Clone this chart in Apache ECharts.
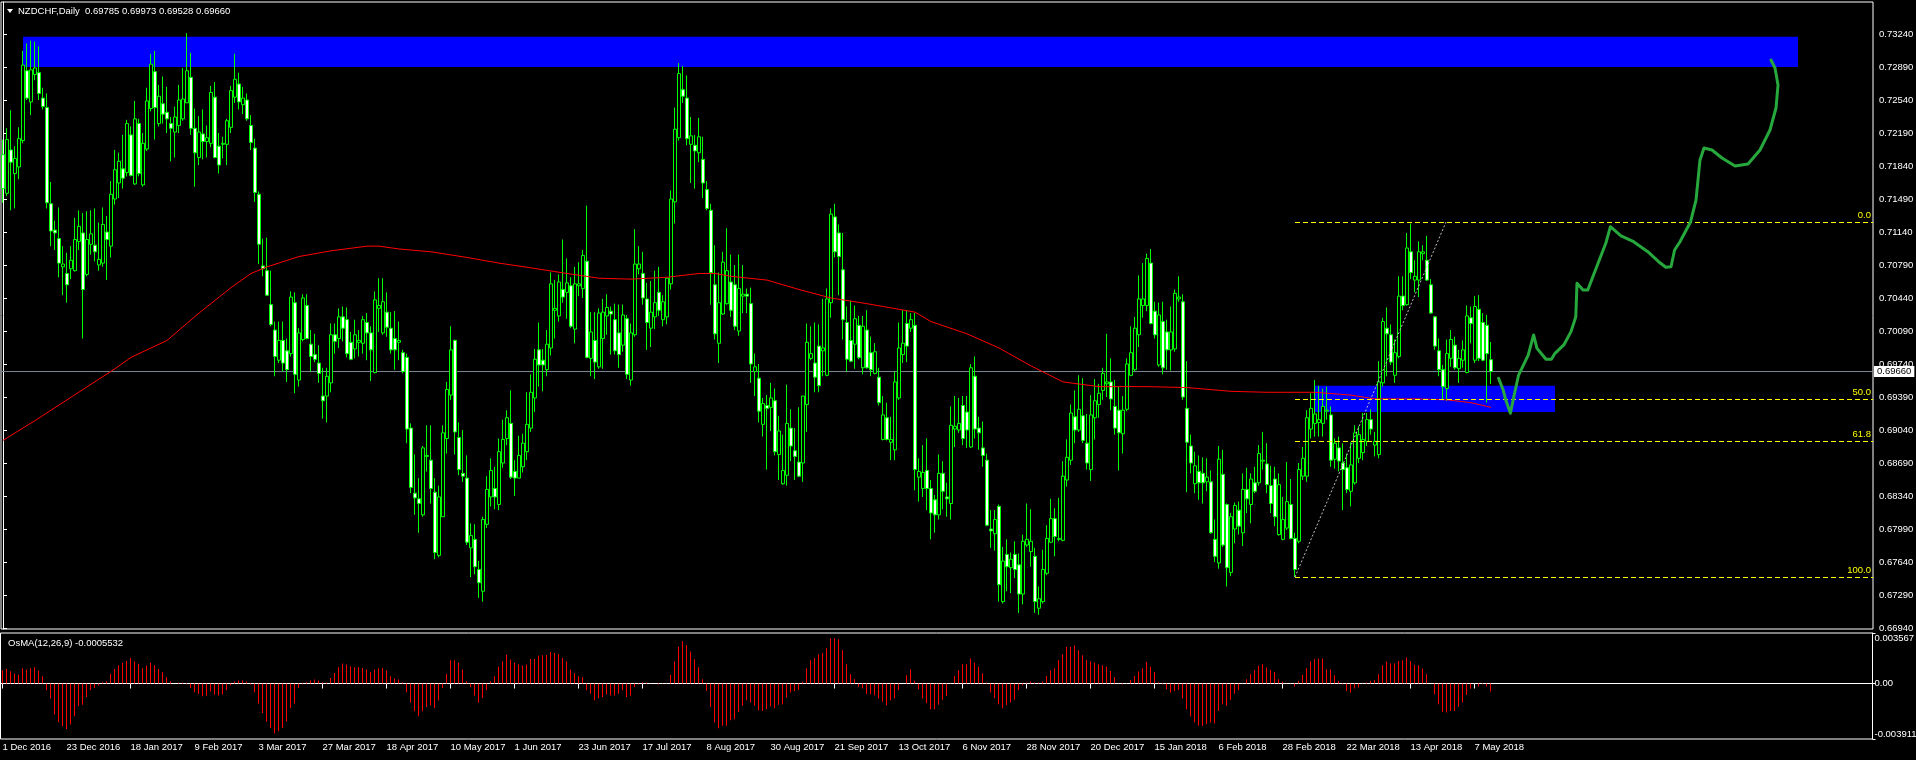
<!DOCTYPE html>
<html><head><meta charset="utf-8">
<script src="https://cdn.jsdelivr.net/npm/echarts@6.0.0/dist/echarts.min.js"></script>
<style>html,body{margin:0;padding:0;background:#000;}#chart{width:1916px;height:760px;}</style>
</head><body><div id="chart"></div>
<script>
const symbolName = 'NZDCHF';
const timeframe = 'Daily';
const dateLabels = ['1 Dec 2016','23 Dec 2016','18 Jan 2017','9 Feb 2017','3 Mar 2017','27 Mar 2017','18 Apr 2017','10 May 2017','1 Jun 2017','23 Jun 2017','17 Jul 2017','8 Aug 2017','30 Aug 2017','21 Sep 2017','13 Oct 2017','6 Nov 2017','28 Nov 2017','20 Dec 2017','15 Jan 2018','6 Feb 2018','28 Feb 2018','22 Mar 2018','13 Apr 2018','7 May 2018'];
const barsPerLabel = 16;

const open = [0.7196,0.7155,0.7201,0.7176,0.7183,0.7211,0.7285,0.7252,0.7281,0.7283,
0.7256,0.7246,0.7144,0.7116,0.7107,0.7077,0.7070,0.7075,0.7073,0.7104,
0.7113,0.7069,0.7101,0.7100,0.7079,0.7081,0.7114,0.7099,0.7149,0.7166,
0.7181,0.7177,0.7217,0.7165,0.7229,0.7164,0.7202,0.7245,0.7284,0.7229,
0.7250,0.7241,0.7229,0.7220,0.7227,0.7234,0.7251,0.7278,0.7224,0.7193,
0.7218,0.7210,0.7208,0.7257,0.7205,0.7207,0.7207,0.7225,0.7257,0.7271,
0.7249,0.7254,0.7227,0.7203,0.7154,0.7078,0.7073,0.7037,0.7010,0.6978,
0.6999,0.6988,0.6985,0.7039,0.6957,0.7000,0.7036,0.6995,0.6984,0.6975,
0.6940,0.6940,0.6954,0.7005,0.7001,0.7024,0.7021,0.6997,0.6990,0.6997,
0.6996,0.7018,0.7007,0.6965,0.7033,0.7007,0.7029,0.7012,0.7001,0.6997,
0.6986,0.6981,0.6906,0.6837,0.6831,0.6814,0.6876,0.6872,0.6838,0.6771,
0.6812,0.6895,0.6941,0.6999,0.6896,0.6858,0.6853,0.6779,0.6788,0.6756,
0.6733,0.6804,0.6833,0.6842,0.6825,0.6869,0.6895,0.6911,0.6860,0.6853,
0.6865,0.6881,0.6906,0.6938,0.6989,0.6978,0.6968,0.6991,0.7031,0.7025,
0.7053,0.7050,0.7057,0.7011,0.7057,0.7054,0.7083,0.6980,0.6999,0.6971,
0.7001,0.7025,0.7030,0.7021,0.7007,0.6994,0.7022,0.6957,0.7005,0.7075,
0.7070,0.7043,0.7012,0.7024,0.7050,0.7021,0.7024,0.7059,0.7146,0.7214,
0.7265,0.7256,0.7207,0.7206,0.7198,0.7191,0.7159,0.7137,0.7058,0.6996,
0.7027,0.7038,0.7061,0.7058,0.7009,0.7046,0.7048,0.7038,0.6966,0.6959,
0.6910,0.6930,0.6928,0.6935,0.6878,0.6847,0.6856,0.6906,0.6882,0.6870,
0.6869,0.6931,0.6980,0.6975,0.6993,0.6988,0.6962,0.7039,0.7130,0.7113,
0.7074,0.7018,0.6999,0.6995,0.7015,0.6970,0.7010,0.6986,0.6964,0.6960,
0.6894,0.6917,0.6891,0.6883,0.6938,0.6984,0.7017,0.7012,0.7015,0.6854,
0.6842,0.6861,0.6842,0.6830,0.6814,0.6858,0.6833,0.6826,0.6905,0.6904,
0.6930,0.6923,0.6886,0.6961,0.6906,0.6885,0.6872,0.6799,0.6794,0.6823,
0.6722,0.6772,0.6758,0.6772,0.6761,0.6730,0.6782,0.6775,0.6770,0.6715,
0.6722,0.6752,0.6785,0.6810,0.6788,0.6787,0.6851,0.6872,0.6918,0.6904,
0.6919,0.6890,0.6862,0.6917,0.6931,0.6946,0.6953,0.6955,0.6929,0.6925,
0.6900,0.6926,0.6962,0.6968,0.7005,0.7036,0.7036,0.7081,0.7030,0.6973,
0.7019,0.7008,0.6989,0.6990,0.7043,0.7040,0.6927,0.6887,0.6847,0.6860,
0.6858,0.6849,0.6849,0.6788,0.6763,0.6857,0.6825,0.6753,0.6799,0.6819,
0.6795,0.6841,0.6825,0.6848,0.6848,0.6871,0.6868,0.6845,0.6852,0.6793,
0.6788,0.6800,0.6825,0.6789,0.6786,0.6855,0.6855,0.6905,0.6911,0.6912,
0.6911,0.6924,0.6920,0.6873,0.6885,0.6869,0.6864,0.6839,0.6848,0.6874,
0.6880,0.6892,0.6915,0.6888,0.6878,0.6954,0.7012,0.7005,0.6962,0.6982,
0.7046,0.7037,0.7093,0.7063,0.7063,0.7091,0.7084,0.7058,0.7024,0.6988,
0.6968,0.6948,0.6980,0.6994,0.6969,0.6978,0.6965,0.7023,0.6978,0.7032,
0.7018,0.7015,0.69785];

const high = [0.7212,0.7224,0.7243,0.7205,0.7225,0.7306,0.7314,0.7317,0.7316,0.7311,
0.7267,0.7261,0.7167,0.7126,0.7140,0.7099,0.7092,0.7099,0.7129,0.7137,
0.7134,0.7136,0.7137,0.7139,0.7124,0.7140,0.7131,0.7168,0.7201,0.7198,
0.7217,0.7233,0.7226,0.7253,0.7234,0.7219,0.7267,0.7303,0.7306,0.7270,
0.7279,0.7268,0.7236,0.7247,0.7270,0.7288,0.7325,0.7304,0.7245,0.7237,
0.7244,0.7227,0.7269,0.7273,0.7219,0.7215,0.7234,0.7269,0.7303,0.7283,
0.7268,0.7261,0.7238,0.7213,0.7157,0.7107,0.7108,0.7073,0.7019,0.7019,
0.7019,0.7001,0.7051,0.7050,0.7012,0.7048,0.7048,0.7010,0.7006,0.6994,
0.6970,0.6970,0.7017,0.7017,0.7033,0.7035,0.7034,0.7008,0.7021,0.7010,
0.7025,0.7028,0.7014,0.7051,0.7065,0.7065,0.7050,0.7029,0.7030,0.7019,
0.6989,0.6985,0.6911,0.6878,0.6853,0.6887,0.6909,0.6909,0.6853,0.6845,
0.6909,0.6955,0.7014,0.7000,0.6912,0.6904,0.6877,0.6805,0.6804,0.6765,
0.6812,0.6855,0.6874,0.6865,0.6895,0.6915,0.6925,0.6946,0.6872,0.6898,
0.6900,0.6944,0.6963,0.6990,0.7018,0.6990,0.7010,0.7071,0.7063,0.7069,
0.7106,0.7086,0.7066,0.7077,0.7082,0.7095,0.7142,0.7029,0.7029,0.7033,
0.7043,0.7048,0.7035,0.7038,0.7037,0.7037,0.7026,0.7017,0.7117,0.7099,
0.7093,0.7060,0.7062,0.7073,0.7077,0.7047,0.7066,0.7158,0.7246,0.7293,
0.7290,0.7280,0.7236,0.7217,0.7235,0.7215,0.7168,0.7144,0.7100,0.7071,
0.7093,0.7118,0.7090,0.7079,0.7090,0.7079,0.7054,0.7055,0.6985,0.6974,
0.6938,0.6941,0.6954,0.6948,0.6919,0.6899,0.6952,0.6926,0.6906,0.6928,
0.6940,0.7017,0.7014,0.7018,0.7016,0.7043,0.7054,0.7139,0.7144,0.7122,
0.7113,0.7035,0.7041,0.7036,0.7025,0.7025,0.7031,0.7003,0.6996,0.6970,
0.6940,0.6933,0.6918,0.6966,0.7018,0.7031,0.7031,0.7028,0.7028,0.6874,
0.6888,0.6895,0.6851,0.6835,0.6878,0.6871,0.6848,0.6929,0.6940,0.6938,
0.6940,0.6940,0.6974,0.6982,0.6918,0.6913,0.6879,0.6819,0.6819,0.6825,
0.6780,0.6788,0.6774,0.6786,0.6773,0.6793,0.6826,0.6820,0.6779,0.6738,
0.6777,0.6803,0.6831,0.6821,0.6832,0.6871,0.6894,0.6931,0.6946,0.6962,
0.6959,0.6921,0.6941,0.6958,0.6953,0.6970,0.7006,0.6980,0.6957,0.6950,
0.6940,0.6980,0.7014,0.7024,0.7068,0.7081,0.7091,0.7096,0.7040,0.7039,
0.7040,0.7021,0.7035,0.7053,0.7067,0.7048,0.6977,0.6899,0.6881,0.6877,
0.6875,0.6874,0.6861,0.6809,0.6887,0.6883,0.6826,0.6816,0.6827,0.6828,
0.6858,0.6864,0.6858,0.6865,0.6888,0.6902,0.6890,0.6866,0.6865,0.6858,
0.6833,0.6870,0.6852,0.6795,0.6869,0.6886,0.6925,0.6943,0.6957,0.6951,
0.6948,0.6950,0.6929,0.6895,0.6897,0.6890,0.6879,0.6891,0.6909,0.6908,
0.6922,0.6922,0.6926,0.6902,0.6977,0.7023,0.7034,0.7016,0.7000,0.7067,
0.7067,0.7113,0.7123,0.7084,0.7104,0.7100,0.7110,0.7064,0.7025,0.7001,
0.6973,0.7000,0.7010,0.7003,0.6989,0.6999,0.7036,0.7035,0.7046,0.7047,
0.7028,0.7026,0.69973];

const low = [0.7145,0.7152,0.7137,0.7139,0.7170,0.7208,0.7254,0.7238,0.7275,0.7254,
0.7244,0.7139,0.7099,0.7095,0.7066,0.7047,0.7039,0.7064,0.7072,0.7095,
0.7001,0.7067,0.7090,0.7083,0.7073,0.7077,0.7063,0.7087,0.7143,0.7150,
0.7160,0.7173,0.7173,0.7164,0.7173,0.7162,0.7200,0.7242,0.7212,0.7226,
0.7229,0.7219,0.7189,0.7193,0.7219,0.7232,0.7251,0.7217,0.7162,0.7185,
0.7191,0.7193,0.7204,0.7192,0.7176,0.7192,0.7185,0.7219,0.7251,0.7244,
0.7239,0.7232,0.7201,0.7146,0.7080,0.7067,0.7046,0.7014,0.6961,0.6975,
0.6966,0.6955,0.6982,0.6943,0.6950,0.6998,0.7000,0.6966,0.6976,0.6954,
0.6916,0.6912,0.6944,0.6985,0.6991,0.6998,0.6981,0.6978,0.6980,0.6982,
0.6985,0.6978,0.6956,0.6964,0.7008,0.7005,0.7003,0.6985,0.6968,0.6978,
0.6964,0.6890,0.6837,0.6814,0.6795,0.6812,0.6860,0.6826,0.6767,0.6769,
0.6812,0.6879,0.6936,0.6878,0.6856,0.6849,0.6782,0.6748,0.6751,0.6726,
0.6722,0.6800,0.6823,0.6820,0.6819,0.6864,0.6888,0.6852,0.6834,0.6853,
0.6859,0.6872,0.6902,0.6923,0.6950,0.6945,0.6961,0.6983,0.7001,0.7019,
0.7039,0.7022,0.7012,0.6996,0.7046,0.7044,0.6980,0.6961,0.6958,0.6969,
0.6969,0.7005,0.6984,0.6984,0.6970,0.6987,0.6958,0.6951,0.7003,0.7069,
0.7037,0.6989,0.6992,0.7011,0.7025,0.7014,0.7016,0.7053,0.7123,0.7211,
0.7251,0.7206,0.7166,0.7160,0.7188,0.7150,0.7137,0.7037,0.7000,0.6975,
0.7026,0.7037,0.7024,0.7010,0.7004,0.7028,0.7028,0.6954,0.6940,0.6912,
0.6897,0.6862,0.6903,0.6877,0.6851,0.6846,0.6845,0.6871,0.6851,0.6854,
0.6849,0.6902,0.6978,0.6944,0.6944,0.6961,0.6961,0.7023,0.7087,0.7047,
0.7000,0.6966,0.6976,0.6969,0.6979,0.6963,0.6969,0.6961,0.6963,0.6930,
0.6893,0.6893,0.6872,0.6872,0.6936,0.6975,0.6976,0.7008,0.6840,0.6828,
0.6833,0.6819,0.6788,0.6795,0.6809,0.6820,0.6812,0.6809,0.6886,0.6901,
0.6888,0.6885,0.6885,0.6895,0.6883,0.6865,0.6802,0.6779,0.6776,0.6722,
0.6720,0.6733,0.6731,0.6747,0.6710,0.6719,0.6780,0.6759,0.6710,0.6708,
0.6720,0.6750,0.6784,0.6770,0.6786,0.6786,0.6844,0.6867,0.6890,0.6902,
0.6890,0.6862,0.6850,0.6894,0.6917,0.6936,0.6939,0.6925,0.6899,0.6861,
0.6879,0.6924,0.6961,0.6966,0.6992,0.7023,0.7030,0.7016,0.7001,0.6971,
0.6963,0.6968,0.6967,0.6987,0.7040,0.6936,0.6838,0.6858,0.6837,0.6830,
0.6826,0.6839,0.6794,0.6764,0.6757,0.6780,0.6738,0.6749,0.6784,0.6793,
0.6781,0.6816,0.6805,0.6837,0.6845,0.6862,0.6837,0.6816,0.6802,0.6792,
0.6787,0.6798,0.6788,0.6748,0.6784,0.6851,0.6849,0.6895,0.6897,0.6897,
0.6897,0.6915,0.6865,0.6863,0.6860,0.6819,0.6837,0.6823,0.6846,0.6869,
0.6872,0.6887,0.6899,0.6876,0.6874,0.6950,0.6961,0.6973,0.6954,0.6980,
0.7031,0.7036,0.7064,0.7050,0.7045,0.7084,0.7062,0.7027,0.6989,0.6961,
0.6936,0.6935,0.6971,0.6968,0.6954,0.6970,0.6964,0.6996,0.6975,0.6977,
0.6977,0.6933,0.69528];

const close = [0.7160,0.7212,0.7188,0.7192,0.7213,0.7291,0.7256,0.7286,0.7288,0.7261,
0.7247,0.7145,0.7115,0.7113,0.7081,0.7080,0.7058,0.7084,0.7106,0.7120,
0.7053,0.7106,0.7112,0.7093,0.7085,0.7122,0.7106,0.7154,0.7180,0.7189,
0.7171,0.7229,0.7174,0.7234,0.7176,0.7208,0.7253,0.7292,0.7246,0.7258,
0.7239,0.7234,0.7224,0.7236,0.7254,0.7255,0.7285,0.7224,0.7198,0.7220,
0.7210,0.7214,0.7262,0.7193,0.7185,0.7208,0.7232,0.7264,0.7276,0.7252,
0.7256,0.7234,0.7209,0.7156,0.7101,0.7075,0.7047,0.7016,0.6982,0.6999,
0.6975,0.6968,0.7045,0.6963,0.7007,0.7044,0.7001,0.6982,0.6979,0.6964,
0.6935,0.6961,0.7005,0.6998,0.7024,0.7012,0.6985,0.6979,0.7005,0.6999,
0.7021,0.7007,0.6989,0.7042,0.7036,0.7040,0.7013,0.6989,0.6989,0.6999,
0.6966,0.6905,0.6843,0.6832,0.6826,0.6885,0.6877,0.6842,0.6774,0.6833,
0.6901,0.6947,0.6989,0.6902,0.6862,0.6855,0.6785,0.6792,0.6759,0.6742,
0.6809,0.6841,0.6861,0.6833,0.6881,0.6894,0.6917,0.6854,0.6853,0.6877,
0.6890,0.6910,0.6944,0.6979,0.6973,0.6973,0.6995,0.7059,0.7033,0.7061,
0.7045,0.7060,0.7014,0.7059,0.7059,0.7089,0.6981,0.7008,0.6976,0.7028,
0.7029,0.7034,0.7027,0.6988,0.6984,0.7026,0.6963,0.7007,0.7080,0.7080,
0.7044,0.7018,0.7029,0.7039,0.7031,0.7040,0.7065,0.7149,0.7223,0.7282,
0.7258,0.7213,0.7216,0.7200,0.7215,0.7166,0.7139,0.7071,0.7006,0.7039,
0.7082,0.7073,0.7031,0.7014,0.7054,0.7048,0.7046,0.6974,0.6971,0.6924,
0.6932,0.6927,0.6938,0.6881,0.6903,0.6861,0.6911,0.6887,0.6876,0.6855,
0.6940,0.6997,0.6985,0.6960,0.6951,0.6991,0.7043,0.7133,0.7093,0.7088,
0.7021,0.6979,0.6977,0.7022,0.6981,0.7014,0.6970,0.6968,0.6987,0.6933,
0.6920,0.6894,0.6894,0.6955,0.6991,0.6996,0.6993,0.7021,0.6862,0.6860,
0.6859,0.6842,0.6816,0.6814,0.6858,0.6839,0.6831,0.6909,0.6908,0.6911,
0.6895,0.6904,0.6970,0.6905,0.6901,0.6877,0.6803,0.6797,0.6809,0.6740,
0.6765,0.6759,0.6767,0.6756,0.6730,0.6786,0.6788,0.6786,0.6722,0.6725,
0.6756,0.6789,0.6810,0.6791,0.6789,0.6855,0.6875,0.6922,0.6904,0.6926,
0.6893,0.6869,0.6920,0.6935,0.6943,0.6964,0.6955,0.6937,0.6906,0.6901,
0.6925,0.6974,0.6986,0.7012,0.7043,0.7043,0.7086,0.7017,0.7005,0.7026,
0.6970,0.6989,0.7008,0.7049,0.7045,0.6939,0.6891,0.6869,0.6866,0.6848,
0.6848,0.6854,0.6795,0.6770,0.6873,0.6782,0.6758,0.6812,0.6824,0.6802,
0.6841,0.6831,0.6852,0.6839,0.6879,0.6872,0.6846,0.6826,0.6812,0.6846,
0.6809,0.6828,0.6789,0.6756,0.6862,0.6874,0.6917,0.6927,0.6921,0.6915,
0.6929,0.6925,0.6872,0.6890,0.6871,0.6862,0.6841,0.6867,0.6901,0.6899,
0.6894,0.6915,0.6905,0.6892,0.6955,0.7019,0.7006,0.6976,0.6986,0.7046,
0.7036,0.7097,0.7071,0.7067,0.7093,0.7093,0.7063,0.7028,0.6993,0.6968,
0.6950,0.6985,0.7000,0.6970,0.6980,0.6989,0.7025,0.7017,0.7035,0.6980,
0.6978,0.6985,0.69660];

// OsMA(12,26,9) histogram, one value per bar
const osma = [94e-5,103e-5,87e-5,71e-5,63e-5,108e-5,99e-5,108e-5,115e-5,92e-5,
52e-5,-47e-5,-108e-5,-219e-5,-273e-5,-301e-5,-320e-5,-289e-5,-230e-5,-160e-5,
-150e-5,-94e-5,-47e-5,-31e-5,-14e-5,9e-5,16e-5,68e-5,103e-5,127e-5,
146e-5,160e-5,181e-5,157e-5,139e-5,108e-5,127e-5,146e-5,129e-5,103e-5,
80e-5,47e-5,14e-5,1e-5,5e-5,5e-5,-5e-5,-31e-5,-61e-5,-71e-5,
-89e-5,-85e-5,-56e-5,-78e-5,-85e-5,-78e-5,-47e-5,-12e-5,14e-5,21e-5,
21e-5,12e-5,-7e-5,-61e-5,-141e-5,-207e-5,-270e-5,-313e-5,-353e-5,-336e-5,
-313e-5,-266e-5,-172e-5,-141e-5,-31e-5,-5e-5,9e-5,21e-5,28e-5,21e-5,
9e-5,5e-5,40e-5,75e-5,115e-5,141e-5,134e-5,122e-5,115e-5,115e-5,
110e-5,99e-5,82e-5,99e-5,106e-5,110e-5,92e-5,52e-5,35e-5,28e-5,
9e-5,-61e-5,-136e-5,-195e-5,-230e-5,-195e-5,-165e-5,-155e-5,-172e-5,-120e-5,
-31e-5,68e-5,165e-5,165e-5,146e-5,99e-5,16e-5,-26e-5,-85e-5,-136e-5,
-101e-5,-47e-5,16e-5,52e-5,118e-5,157e-5,204e-5,169e-5,146e-5,134e-5,
127e-5,134e-5,174e-5,174e-5,197e-5,200e-5,202e-5,223e-5,216e-5,209e-5,
181e-5,157e-5,99e-5,75e-5,52e-5,45e-5,-47e-5,-71e-5,-118e-5,-103e-5,
-94e-5,-78e-5,-85e-5,-85e-5,-71e-5,-47e-5,-94e-5,-85e-5,-24e-5,-7e-5,
9e-5,5e-5,-2e-5,1e-5,-5e-5,2e-5,2e-5,
61e-5,157e-5,259e-5,298e-5,270e-5,226e-5,172e-5,115e-5,31e-5,-52e-5,
-165e-5,-275e-5,-315e-5,-298e-5,-298e-5,-259e-5,-251e-5,-200e-5,-157e-5,-118e-5,
-134e-5,-157e-5,-188e-5,-193e-5,-181e-5,-162e-5,-174e-5,-150e-5,-146e-5,-99e-5,
-63e-5,-52e-5,-45e-5,12e-5,108e-5,165e-5,179e-5,207e-5,214e-5,249e-5,
320e-5,320e-5,313e-5,235e-5,136e-5,66e-5,31e-5,-24e-5,-35e-5,-71e-5,
-75e-5,-82e-5,-106e-5,-129e-5,-153e-5,-118e-5,-106e-5,-47e-5,1e-5,59e-5,
101e-5,19e-5,-40e-5,-106e-5,-139e-5,-181e-5,-181e-5,-150e-5,-115e-5,-87e-5,
-2e-5,54e-5,94e-5,136e-5,136e-5,176e-5,148e-5,118e-5,73e-5,7e-5,
-63e-5,-103e-5,-146e-5,-174e-5,-153e-5,-134e-5,-115e-5,-47e-5,-12e-5,7e-5,
14e-5,7e-5,5e-5,14e-5,54e-5,94e-5,108e-5,165e-5,207e-5,259e-5,
259e-5,270e-5,235e-5,200e-5,167e-5,155e-5,148e-5,136e-5,129e-5,120e-5,
89e-5,47e-5,2e-5,-5e-5,2e-5,26e-5,54e-5,85e-5,108e-5,153e-5,
118e-5,82e-5,7e-5,-5e-5,-40e-5,-63e-5,-52e-5,-45e-5,-106e-5,-181e-5,
-233e-5,-275e-5,-298e-5,-298e-5,-287e-5,-275e-5,-282e-5,-193e-5,-146e-5,-157e-5,
-115e-5,-71e-5,-47e-5,2e-5,31e-5,66e-5,96e-5,125e-5,136e-5,113e-5,
96e-5,82e-5,31e-5,12e-5,2e-5,-1e-5,-21e-5,19e-5,61e-5,108e-5,
157e-5,172e-5,176e-5,176e-5,101e-5,101e-5,59e-5,19e-5,-5e-5,-52e-5,
-63e-5,-35e-5,-28e-5,-1e-5,7e-5,19e-5,26e-5,66e-5,129e-5,155e-5,
141e-5,141e-5,160e-5,165e-5,183e-5,160e-5,132e-5,129e-5,106e-5,66e-5,
1e-5,-75e-5,-146e-5,-200e-5,-204e-5,-193e-5,-193e-5,-165e-5,-134e-5,-80e-5,
-35e-5,-1e-5,-21e-5,-5e-5,-21e-5,-55.32e-5];

// red moving average, sampled at bar indices
const maIndex = [0,8,16,28,32,41,49,57,62,66,74,82,91,94,99,107,116,124,132,141,149,157,166,174,178,182,191,199,207,216,224,228,232,241,249,257,265,274,286,296,307,316,328,337,343,353,361,367,372];
const maValue = [0.6893,0.6914,0.6936,0.6969,0.6981,0.6999,0.7028,0.7055,0.7070,0.7077,0.7088,0.7094,0.7099,0.7099,0.7096,0.7093,0.7087,0.7081,0.7076,0.7070,0.7065,0.7064,0.7066,0.7070,0.7070,0.7067,0.7063,0.7053,0.7044,0.7038,0.7032,0.7029,0.7019,0.7006,0.6991,0.6972,0.6955,0.6950,0.6950,0.6949,0.6945,0.6944,0.6944,0.6941,0.6937,0.6937,0.6936,0.6933,0.6928];

const priceTicks = [0.6694,0.6729,0.6764,0.6799,0.6834,0.6869,0.6904,0.6939,0.6974,0.7009,0.7044,0.7079,0.7114,0.7149,0.7184,0.7219,0.7254,0.7289,0.7324];
const osmaTicks = [-0.003911, 0, 0.003567];

// supply / demand zones (bar index span, price span)
const zoneStart = [5, 328];
const zoneEnd = [448.75, 388];
const zoneTop = [0.7321, 0.6951];
const zoneBottom = [0.7289, 0.6923];

// Fibonacci retracement
const fibStartIndex = 323, fibEndIndex = 360.75;
const fibLowPrice = 0.67481, fibHighPrice = 0.71246;
const fibLevels = [0, 0.5, 0.618, 1];
const fibLabels = ['0.0', '50.0', '61.8', '100.0'];

// hand-drawn projection path (bar index, price)
const projIndex = [373.9,375.05,375.7,376.85,377.7,378.9,381.3,382.65,383.5,385.75,387.1,388,390.2,392,393.2,393.5,395,396.2,397.8,400.7,401.85,404.5,407.65,411.2,413.9,415.7,417,417.9,419.25,421.9,423.25,424.25,425.25,427.25,429.75,433,436.25,439.25,441.75,443.25,443.75,443,442];
const projPrice = [0.69588,0.69464,0.69358,0.69217,0.69393,0.69623,0.69835,0.70048,0.69906,0.6979,0.6979,0.69853,0.69942,0.70083,0.70242,0.70596,0.70525,0.70525,0.70702,0.7102,0.71196,0.71098,0.71037,0.70931,0.70825,0.70766,0.70772,0.70949,0.71037,0.71249,0.71479,0.71904,0.72031,0.7201,0.71925,0.7184,0.71861,0.7201,0.72222,0.72455,0.72699,0.72879,0.72964];

// ---------- build ----------
const SLOTS = 468;
const cats = Array.from({length: SLOTS}, (_, i) => String(i));
const last = close.length - 1;
const lastPrice = close[last];
const FONT = '"Liberation Sans", Arial, sans-serif';
const FS = 9.5;

const candleData = open.map((o, i) => [o, close[i], low[i], high[i]]);
const maData = maIndex.map((x, k) => [x, maValue[k]]);
const projData = projIndex.map((x, k) => [x, projPrice[k]]);
const fibRange = fibHighPrice - fibLowPrice;
const isLabelIdx = (idx) => idx % barsPerLabel === 0 && idx / barsPerLabel < dateLabels.length;

const chart = echarts.init(document.getElementById('chart'), null, {renderer: 'canvas'});
chart.setOption({
  animation: false,
  backgroundColor: '#000',
  textStyle: {fontFamily: FONT},
  grid: [
    {left: 1, top: 2, width: 1872, height: 627, show: true, borderColor: '#fff', borderWidth: 1, backgroundColor: '#000', outerBoundsMode: 'none', containLabel: false},
    {left: 0.5, top: 633, width: 1872, height: 106, show: true, borderColor: '#fff', borderWidth: 1, backgroundColor: '#000', outerBoundsMode: 'none', containLabel: false}
  ],
  xAxis: [
    {type: 'category', gridIndex: 0, data: cats, boundaryGap: true, show: false},
    {type: 'category', gridIndex: 1, data: cats, boundaryGap: true,
     axisLine: {show: true, lineStyle: {color: '#fff'}},
     axisTick: {show: true, alignWithLabel: true, interval: (idx) => isLabelIdx(idx), length: 5, lineStyle: {color: '#fff'}},
     axisLabel: {show: true, interval: (idx) => isLabelIdx(idx), formatter: (v, idx) => isLabelIdx(idx) ? dateLabels[idx / barsPerLabel] : '',
       align: 'left', color: '#fff', fontSize: FS, fontFamily: FONT, margin: 3, hideOverlap: false},
     splitLine: {show: false}},
    {type: 'value', gridIndex: 0, min: -0.5, max: SLOTS - 0.5, show: false}
  ],
  yAxis: [
    {type: 'value', gridIndex: 0, position: 'right', min: 0.669294, max: 0.735794,
     axisLine: {show: true, lineStyle: {color: '#fff'}},
     axisTick: {show: true, customValues: priceTicks, length: 4, lineStyle: {color: '#fff'}},
     axisLabel: {show: true, customValues: priceTicks, formatter: (v) => v.toFixed(5), color: '#fff', fontSize: FS, fontFamily: FONT, margin: 6},
     splitLine: {show: false}},
    {type: 'value', gridIndex: 1, position: 'right', min: osmaTicks[0], max: osmaTicks[2],
     axisLine: {show: true, lineStyle: {color: '#fff'}},
     axisTick: {show: true, customValues: osmaTicks, length: 3, lineStyle: {color: '#fff'}},
     axisLabel: {show: true, customValues: osmaTicks, formatter: (v) => Math.abs(v) < 1e-12 ? '0.00' : v.toFixed(6),
       color: '#fff', fontSize: FS, fontFamily: FONT, margin: 2, verticalAlignMinLabel: 'bottom', verticalAlignMaxLabel: 'top'},
     splitLine: {show: false}}
  ],
  graphic: [
    {type: 'polygon', shape: {points: [[7, 9], [13, 9], [10, 13]]}, style: {fill: '#fff'}},
    {type: 'text', x: 18, y: 11, style: {text: `${symbolName},${timeframe}  ${open[last].toFixed(5)} ${high[last].toFixed(5)} ${low[last].toFixed(5)} ${close[last].toFixed(5)}`,
      fill: '#fff', font: `${FS}px ${FONT}`, verticalAlign: 'middle'}},
    {type: 'text', x: 8, y: 643, style: {text: `OsMA(12,26,9) ${osma[last].toFixed(7)}`, fill: '#fff', font: `${FS}px ${FONT}`, verticalAlign: 'middle'}}
  ],
  series: [
    {type: 'line', name: 'zones', xAxisIndex: 2, yAxisIndex: 0, z: 1, silent: true,
     data: [[zoneStart[0], zoneTop[0]]], showSymbol: false, lineStyle: {opacity: 0},
     markArea: {silent: true, itemStyle: {color: '#0000ff', opacity: 1},
       data: zoneStart.map((s, k) => [{coord: [s, zoneTop[k]]}, {coord: [zoneEnd[k], zoneBottom[k]]}])}},
    {type: 'line', name: 'priceLine', xAxisIndex: 2, yAxisIndex: 0, z: 2, silent: true,
     data: [[-0.5, lastPrice], [SLOTS - 0.5, lastPrice]], showSymbol: false,
     lineStyle: {color: '#778899', width: 1, type: 'solid'},
     endLabel: {show: true, formatter: lastPrice.toFixed(5), backgroundColor: '#fff', color: '#000',
       padding: [1, 3, 0, 3], fontSize: FS, fontFamily: FONT, distance: 1}},
    {type: 'candlestick', name: symbolName, xAxisIndex: 0, yAxisIndex: 0, z: 3, data: candleData, barWidth: 3,
     itemStyle: {color: '#000', color0: '#fff', borderColor: '#00ff00', borderColor0: '#00ff00', borderWidth: 1}},
    {type: 'line', name: 'MA', xAxisIndex: 0, yAxisIndex: 0, z: 4, data: maData, showSymbol: false, silent: true,
     lineStyle: {color: '#ff0000', width: 1}},
    {type: 'line', name: 'fib', xAxisIndex: 2, yAxisIndex: 0, z: 4, silent: true,
     data: [[fibStartIndex, fibLowPrice], [fibEndIndex, fibHighPrice]], showSymbol: false,
     lineStyle: {color: '#c0c0c0', width: 1, type: [2, 2]},
     markLine: {silent: true, symbol: ['none', 'none'], animation: false,
       lineStyle: {color: '#ffff00', width: 1, type: [5, 3]},
       data: fibLevels.map((lv, k) => [
         {coord: [fibStartIndex, fibHighPrice - lv * fibRange],
          label: {show: true, position: 'insideEndTop', formatter: fibLabels[k], color: '#ffff00', fontSize: FS, fontFamily: FONT, distance: 2}},
         {coord: [SLOTS - 0.5, fibHighPrice - lv * fibRange]}])}},
    {type: 'line', name: 'projection', xAxisIndex: 2, yAxisIndex: 0, z: 6, data: projData, showSymbol: false, silent: true,
     lineStyle: {color: '#27a83c', width: 3, cap: 'round', join: 'round'}},
    {type: 'bar', name: 'OsMA', xAxisIndex: 1, yAxisIndex: 1, data: osma, barWidth: 1, silent: true,
     itemStyle: {color: '#ff0000'}}
  ]
});
</script>
</body></html>
